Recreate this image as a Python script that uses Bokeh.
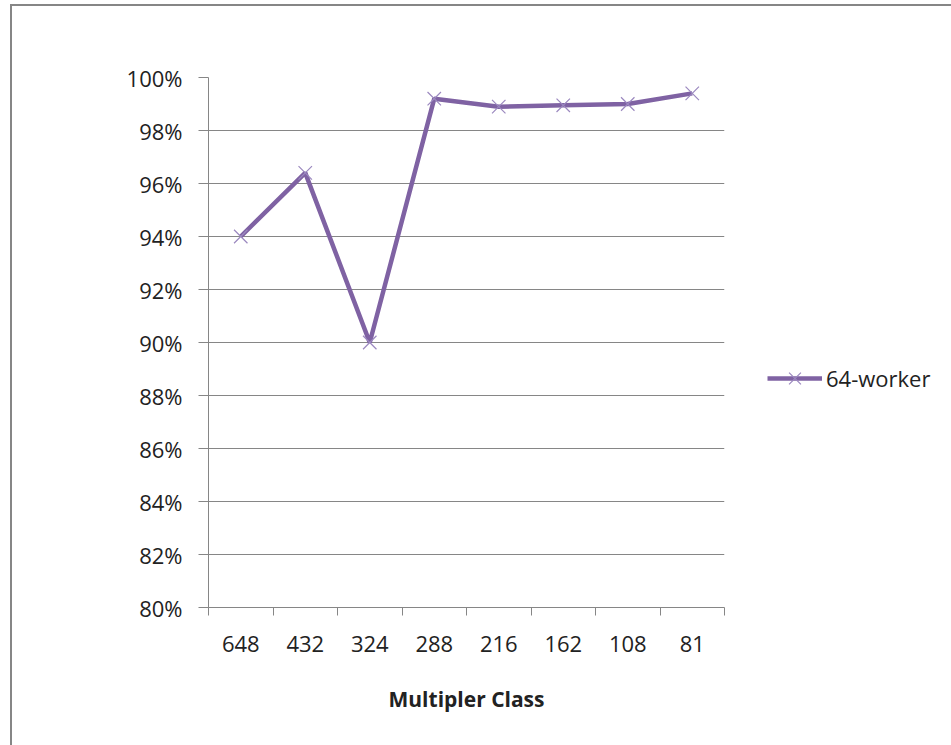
from bokeh.plotting import figure
from bokeh.layouts import row
from bokeh.models import Range1d, FixedTicker, PrintfTickFormatter, Legend, LegendItem
from bokeh.embed import file_html
from bokeh.resources import INLINE

# Multiplier classes along the x axis and the 64-worker efficiency series (%)
categories = ["648", "432", "324", "288", "216", "162", "108", "81"]
worker64 = [94.0, 96.4, 90.0, 99.2, 98.9, 98.95, 99.0, 99.4]
y_ticks = [80, 82, 84, 86, 88, 90, 92, 94, 96, 98, 100]
series_name = "64-worker"

FONT = "Open Sans"
GRID = "#868686"
TEXT = "#222222"
PURPLE = "#7F62A3"
MARKER = "#9B88BF"

xs = list(range(len(categories)))
boundaries = [i - 0.5 for i in range(len(categories) + 1)]
x_range = Range1d(-0.5, len(categories) - 0.5)

# ---- main chart -------------------------------------------------------
p = figure(width=714, height=739, output_backend="svg", toolbar_location=None,
           x_range=x_range, y_range=Range1d(y_ticks[0], y_ticks[-1]),
           min_border_left=196, min_border_right=2,
           min_border_top=71, min_border_bottom=138)
p.outline_line_color = None
p.background_fill_color = "white"
p.border_fill_color = "white"

# horizontal gridlines
p.xgrid.visible = False
p.ygrid.ticker = FixedTicker(ticks=y_ticks)
p.ygrid.grid_line_color = GRID
p.ygrid.grid_line_width = 1

# y axis
ya = p.yaxis[0]
ya.ticker = FixedTicker(ticks=y_ticks)
ya.formatter = PrintfTickFormatter(format="%d%%")
ya.axis_line_color = GRID
ya.major_tick_line_color = GRID
ya.major_tick_out = 10
ya.major_tick_in = 0
ya.minor_tick_line_color = None
ya.major_label_standoff = 16
ya.major_label_text_font = FONT
ya.major_label_text_font_size = "22px"
ya.major_label_text_color = TEXT

# x axis: labels at category centres, tick marks on category boundaries
xa = p.xaxis[0]
xa.ticker = FixedTicker(ticks=xs, minor_ticks=boundaries)
xa.major_label_overrides = {i: c for i, c in enumerate(categories)}
xa.axis_line_color = GRID
xa.major_tick_line_color = None
xa.major_tick_out = 8
xa.major_tick_in = 0
xa.minor_tick_line_color = GRID
xa.minor_tick_out = 8
xa.minor_tick_in = 0
xa.major_label_standoff = 20
xa.major_label_text_font = FONT
xa.major_label_text_font_size = "22px"
xa.major_label_text_color = TEXT
xa.axis_label = "Multipler Class"
xa.axis_label_text_font = FONT
xa.axis_label_text_font_style = "bold"
xa.axis_label_text_font_size = "21px"
xa.axis_label_text_color = TEXT
xa.axis_label_standoff = 30

p.line(xs, worker64, line_color=PURPLE, line_width=4.5)
p.scatter(xs, worker64, marker="x", size=19, line_color=MARKER, line_width=1.2)

# ---- legend panel to the right of the chart ----------------------------
# Same series styling; the panel's y range lies outside the data so only
# the legend entry is visible here.
lg = figure(width=225, height=739, output_backend="svg", toolbar_location=None,
            x_range=x_range, y_range=Range1d(0, 1),
            x_axis_location=None, y_axis_location=None,
            min_border_left=0, min_border_right=0,
            min_border_top=0, min_border_bottom=0)
lg.grid.visible = False
lg.outline_line_color = None
lg.background_fill_color = "white"
lg.border_fill_color = "white"
l_line = lg.line(xs, worker64, line_color=PURPLE, line_width=4.5)
l_pts = lg.scatter(xs, worker64, marker="x", size=19, line_color=MARKER,
                   line_width=1.2)

legend = Legend(items=[LegendItem(label=series_name, renderers=[l_line, l_pts])],
                location=(41, 208), orientation="vertical",
                glyph_width=55, glyph_height=42, label_height=42,
                label_standoff=4, padding=0, spacing=0, margin=0,
                border_line_color=None, background_fill_alpha=0,
                label_text_font=FONT, label_text_font_size="22px",
                label_text_color=TEXT)
lg.add_layout(legend, "center")

# chart area with its grey frame (left and top edges fall inside the page)
layout = row(p, lg, spacing=0, margin=(4, 0, 0, 10),
             styles={"border-left": f"2px solid {GRID}",
                     "border-top": f"2px solid {GRID}"})

open("out.html", "w").write(file_html(layout, INLINE))
